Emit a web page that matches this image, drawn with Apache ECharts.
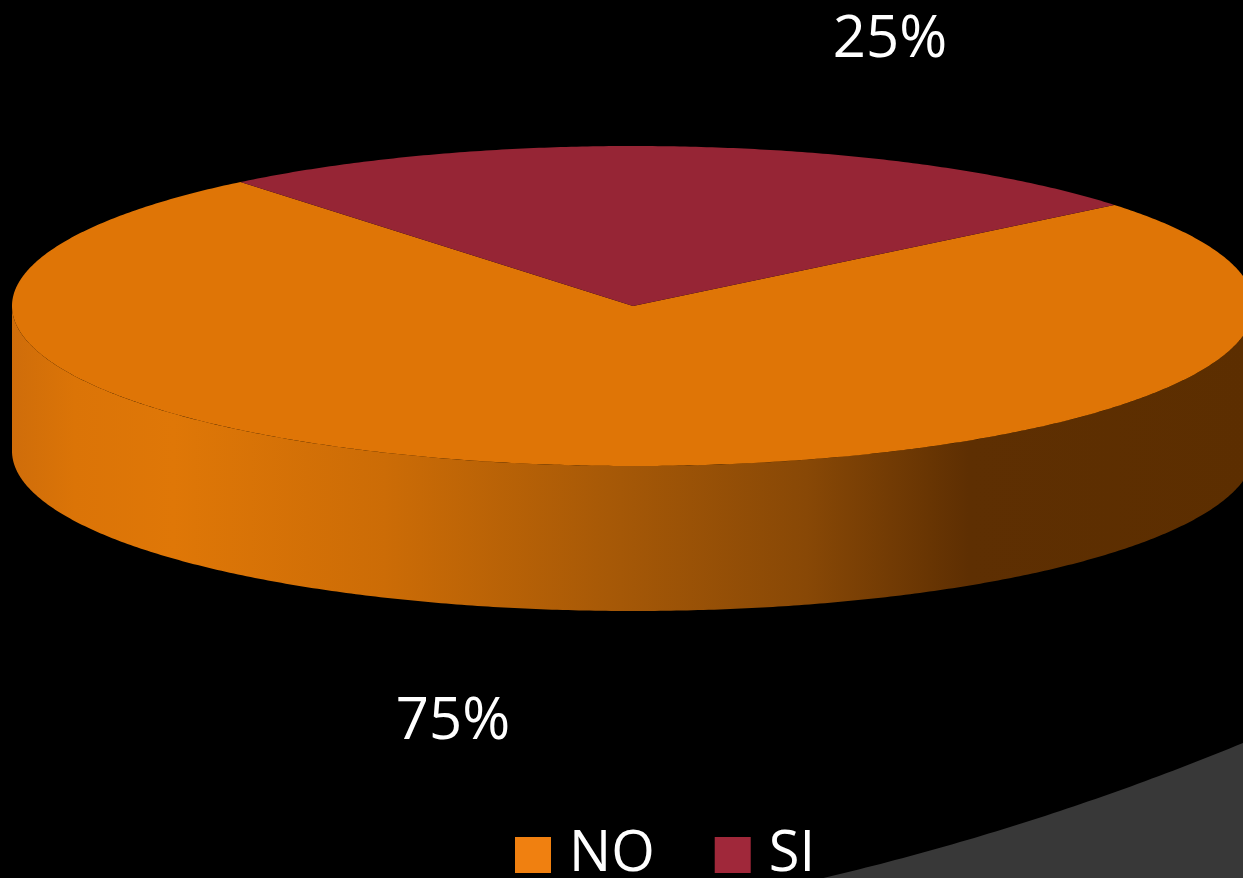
<!DOCTYPE html>
<html>
<head>
<meta charset="utf-8">
<script src="https://cdn.jsdelivr.net/npm/echarts@6/dist/echarts.min.js"></script>
<style>
  html, body { margin: 0; padding: 0; background: #000; }
  #chart { width: 1243px; height: 878px; }
</style>
</head>
<body>
<div id="chart"></div>
<script>
// Answers and their shares (percent)
const categories = ['NO', 'SI'];
const values = [75, 25];

// Colours: lit top face, legend swatch
const topColors = ['#DF7506', '#962535'];
const legendColors = ['#F08010', '#A0283A'];

// Tilted-disc geometry (pixels)
const disc = { cx: 633, cy: 306, rx: 621, ry: 160, depth: 145, startAngle: -39.2 };
// Where each percentage label sits
const labelAnchors = [[453, 722], [890, 40]];

const sideGradient = {
  type: 'linear', global: true,
  x: disc.cx - disc.rx, y: 0, x2: disc.cx + disc.rx, y2: 0,
  colorStops: [
    { offset: 0.0, color: '#CF6D0A' },
    { offset: 0.05, color: '#DB7407' },
    { offset: 0.13, color: '#DF7707' },
    { offset: 0.30, color: '#CC6C06' },
    { offset: 0.49, color: '#A55807' },
    { offset: 0.64, color: '#884806' },
    { offset: 0.77, color: '#5E2F02' },
    { offset: 1.0, color: '#5C2E00' }
  ]
};

function ellipsePt(deg, yOff) {
  const r = deg * Math.PI / 180;
  return [disc.cx + disc.rx * Math.cos(r), disc.cy + (yOff || 0) + disc.ry * Math.sin(r)];
}

function arcPts(a0, a1, yOff) {
  const pts = [];
  const n = Math.max(2, Math.ceil(Math.abs(a1 - a0) / 0.5));
  for (let i = 0; i <= n; i++) pts.push(ellipsePt(a0 + (a1 - a0) * i / n, yOff));
  return pts;
}

// Grey backdrop swoosh in the lower-right corner (quadratic curve edge)
function swooshPts() {
  const p0 = [815, 880], c = [1034, 829], p2 = [1243, 743];
  const pts = [];
  for (let i = 0; i <= 60; i++) {
    const t = i / 60, u = 1 - t;
    pts.push([u * u * p0[0] + 2 * u * t * c[0] + t * t * p2[0],
              u * u * p0[1] + 2 * u * t * c[1] + t * t * p2[1]]);
  }
  pts.push([1243, 880]);
  return pts;
}

function sliceRenderer(idx) {
  return function (params, api) {
    const total = values.reduce((s, v) => s + v, 0);
    let before = 0;
    for (let k = 0; k < idx; k++) before += values[k];
    const v = api.value(0);
    const a0 = disc.startAngle + before / total * 360;
    const a1 = a0 + v / total * 360;
    const children = [];

    // front wall: portion of the slice facing the viewer (0..180 deg)
    for (const k of [-360, 0, 360]) {
      const lo = Math.max(a0, k), hi = Math.min(a1, 180 + k);
      if (hi > lo) {
        const pts = arcPts(lo, hi, 0).concat(arcPts(hi, lo, disc.depth));
        children.push({ type: 'polygon', shape: { points: pts }, style: { fill: sideGradient } });
      }
    }

    // top face
    const top = [[disc.cx, disc.cy]].concat(arcPts(a0, a1, 0));
    children.push({ type: 'polygon', shape: { points: top }, style: { fill: topColors[idx] } });

    // percentage label
    const pct = Math.round(v / total * 100) + '%';
    children.push({
      type: 'text',
      x: labelAnchors[idx][0], y: labelAnchors[idx][1],
      style: {
        text: pct, fill: '#FFFFFF', align: 'center', verticalAlign: 'middle',
        font: '58px "Open Sans", sans-serif'
      }
    });
    return { type: 'group', children: children };
  };
}

const chart = echarts.init(document.getElementById('chart'), null, { renderer: 'canvas' });
chart.setOption({
  backgroundColor: '#000000',
  animation: false,
  graphic: [{
    type: 'polygon',
    z: -10,
    shape: { points: swooshPts() },
    style: { fill: '#383838' }
  }],
  legend: {
    left: 510, top: 822,
    itemWidth: 36, itemHeight: 36, itemGap: 60,
    icon: 'rect',
    selectedMode: false,
    textStyle: { color: '#FFFFFF', fontSize: 56, fontFamily: 'Open Sans', padding: [0, 0, 0, 13] },
    data: categories.map((c, i) => ({ name: c, itemStyle: { color: legendColors[i] } }))
  },
  series: categories.map((c, i) => ({
    type: 'custom',
    name: c,
    coordinateSystem: 'none',
    itemStyle: { color: legendColors[i] },
    renderItem: sliceRenderer(i),
    data: [values[i]]
  }))
});
</script>
</body>
</html>
